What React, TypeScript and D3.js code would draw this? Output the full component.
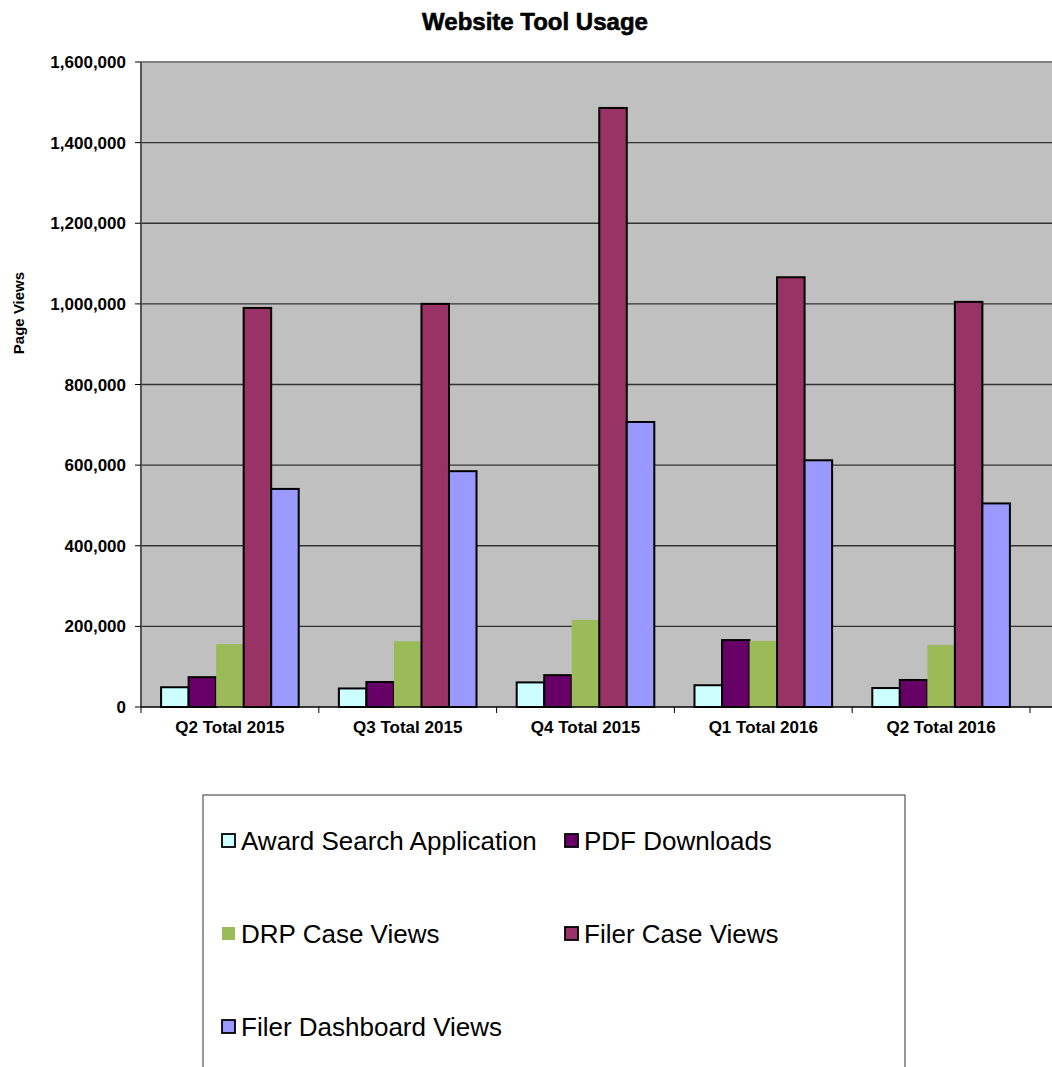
import React from "react";
import * as d3 from "d3";

const categories = ["Q2 Total 2015", "Q3 Total 2015", "Q4 Total 2015", "Q1 Total 2016", "Q2 Total 2016"];
const seriesNames = ["Award Search Application", "PDF Downloads", "DRP Case Views", "Filer Case Views", "Filer Dashboard Views"];
const awardSearch = [49000, 46000, 61000, 54000, 47000];
const pdfDownloads = [74000, 62000, 79000, 166000, 67000];
const drpCaseViews = [156000, 163000, 216000, 164000, 154000];
const filerCaseViews = [990000, 1000000, 1486000, 1066000, 1005000];
const filerDashboardViews = [541000, 585000, 707000, 612000, 505000];
const yTicks = [0, 200000, 400000, 600000, 800000, 1000000, 1200000, 1400000, 1600000];

const seriesValues = [awardSearch, pdfDownloads, drpCaseViews, filerCaseViews, filerDashboardViews];
const colors = ["#CCFFFF", "#660066", "#9BBB59", "#993366", "#9999FF"];
const bordered = [true, true, false, true, true];

const W = 1052;
const H = 1067;
const plotL = 141;
const plotR = 1052;
const plotT = 62;
const plotB = 707;
const font = "'Liberation Sans', Arial, sans-serif";

export default function App() {
  const y = d3.scaleLinear().domain([0, 1600000]).range([plotB, plotT]);
  const x0 = d3.scaleBand<string>().domain(categories).range([plotL, 1030]).paddingInner(0.226).paddingOuter(0.113);
  const x1 = d3.scaleBand<string>().domain(seriesNames).range([0, x0.bandwidth()]);
  const fmt = d3.format(",");
  const step = x0.step();
  const boundaries = d3.range(categories.length + 1).map((i) => plotL + i * step);

  const legendItems = seriesNames.map((name, i) => ({
    name,
    color: colors[i],
    border: bordered[i],
    col: i % 2,
    row: Math.floor(i / 2),
  }));

  return (
    <svg width={W} height={H} style={{ position: "absolute", left: 0, top: 0, background: "#fff" }} fontFamily={font}>
      <text x={535} y={30} textAnchor="middle" fontSize={24} fontWeight="bold" stroke="#000" strokeWidth={0.6}>Website Tool Usage</text>

      <rect x={plotL} y={plotT} width={plotR - plotL} height={plotB - plotT} fill="#C0C0C0" />
      <line x1={plotL} x2={plotR} y1={plotT} y2={plotT} stroke="#808080" strokeWidth={2} />
      {yTicks.filter((t) => t > 0 && t < 1600000).map((t) => (
        <line key={t} x1={plotL} x2={plotR} y1={y(t)} y2={y(t)} stroke="#333" strokeWidth={1.3} />
      ))}
      <line x1={plotL} x2={plotL} y1={plotT} y2={plotB} stroke="#555" strokeWidth={2} />

      {categories.map((c, ci) => (
        <g key={c} transform={`translate(${x0(c)},0)`}>
          {seriesNames.map((s, si) => {
            const v = seriesValues[si][ci];
            return (
              <rect
                key={s}
                x={x1(s)}
                y={y(v)}
                width={x1.bandwidth()}
                height={plotB - y(v)}
                fill={colors[si]}
                stroke={bordered[si] ? "#000" : "none"}
                strokeWidth={2}
              />
            );
          })}
        </g>
      ))}

      <line x1={plotL} x2={plotR} y1={plotB} y2={plotB} stroke="#000" strokeWidth={1.5} />
      {boundaries.map((b, i) => (
        <line key={i} x1={b} x2={b} y1={plotB} y2={plotB + 6} stroke="#000" strokeWidth={1} />
      ))}
      {categories.map((c) => (
        <text key={c} x={(x0(c) as number) + x0.bandwidth() / 2} y={733} textAnchor="middle" fontSize={17} fontWeight="bold">{c}</text>
      ))}

      {yTicks.map((t) => (
        <g key={t}>
          <line x1={plotL - 6} x2={plotL} y1={y(t)} y2={y(t)} stroke="#000" strokeWidth={1} />
          <text x={126} y={y(t) + 6} textAnchor="end" fontSize={17} fontWeight="bold">{fmt(t)}</text>
        </g>
      ))}

      <text transform={`translate(24,313) rotate(-90)`} textAnchor="middle" fontSize={15} fontWeight="bold">Page Views</text>

      <rect x={203} y={795} width={702} height={290} fill="#fff" stroke="#555" strokeWidth={1.2} />
      {legendItems.map((it) => {
        const lx = it.col === 0 ? 222 : 565;
        const ly = 841 + it.row * 93;
        return (
          <g key={it.name}>
            <rect x={lx} y={ly - 7} width={13} height={13} fill={it.color} stroke={it.border ? "#000" : "none"} strokeWidth={1.8} />
            <text x={lx + 19} y={ly + 9} fontSize={26}>{it.name}</text>
          </g>
        );
      })}
    </svg>
  );
}
